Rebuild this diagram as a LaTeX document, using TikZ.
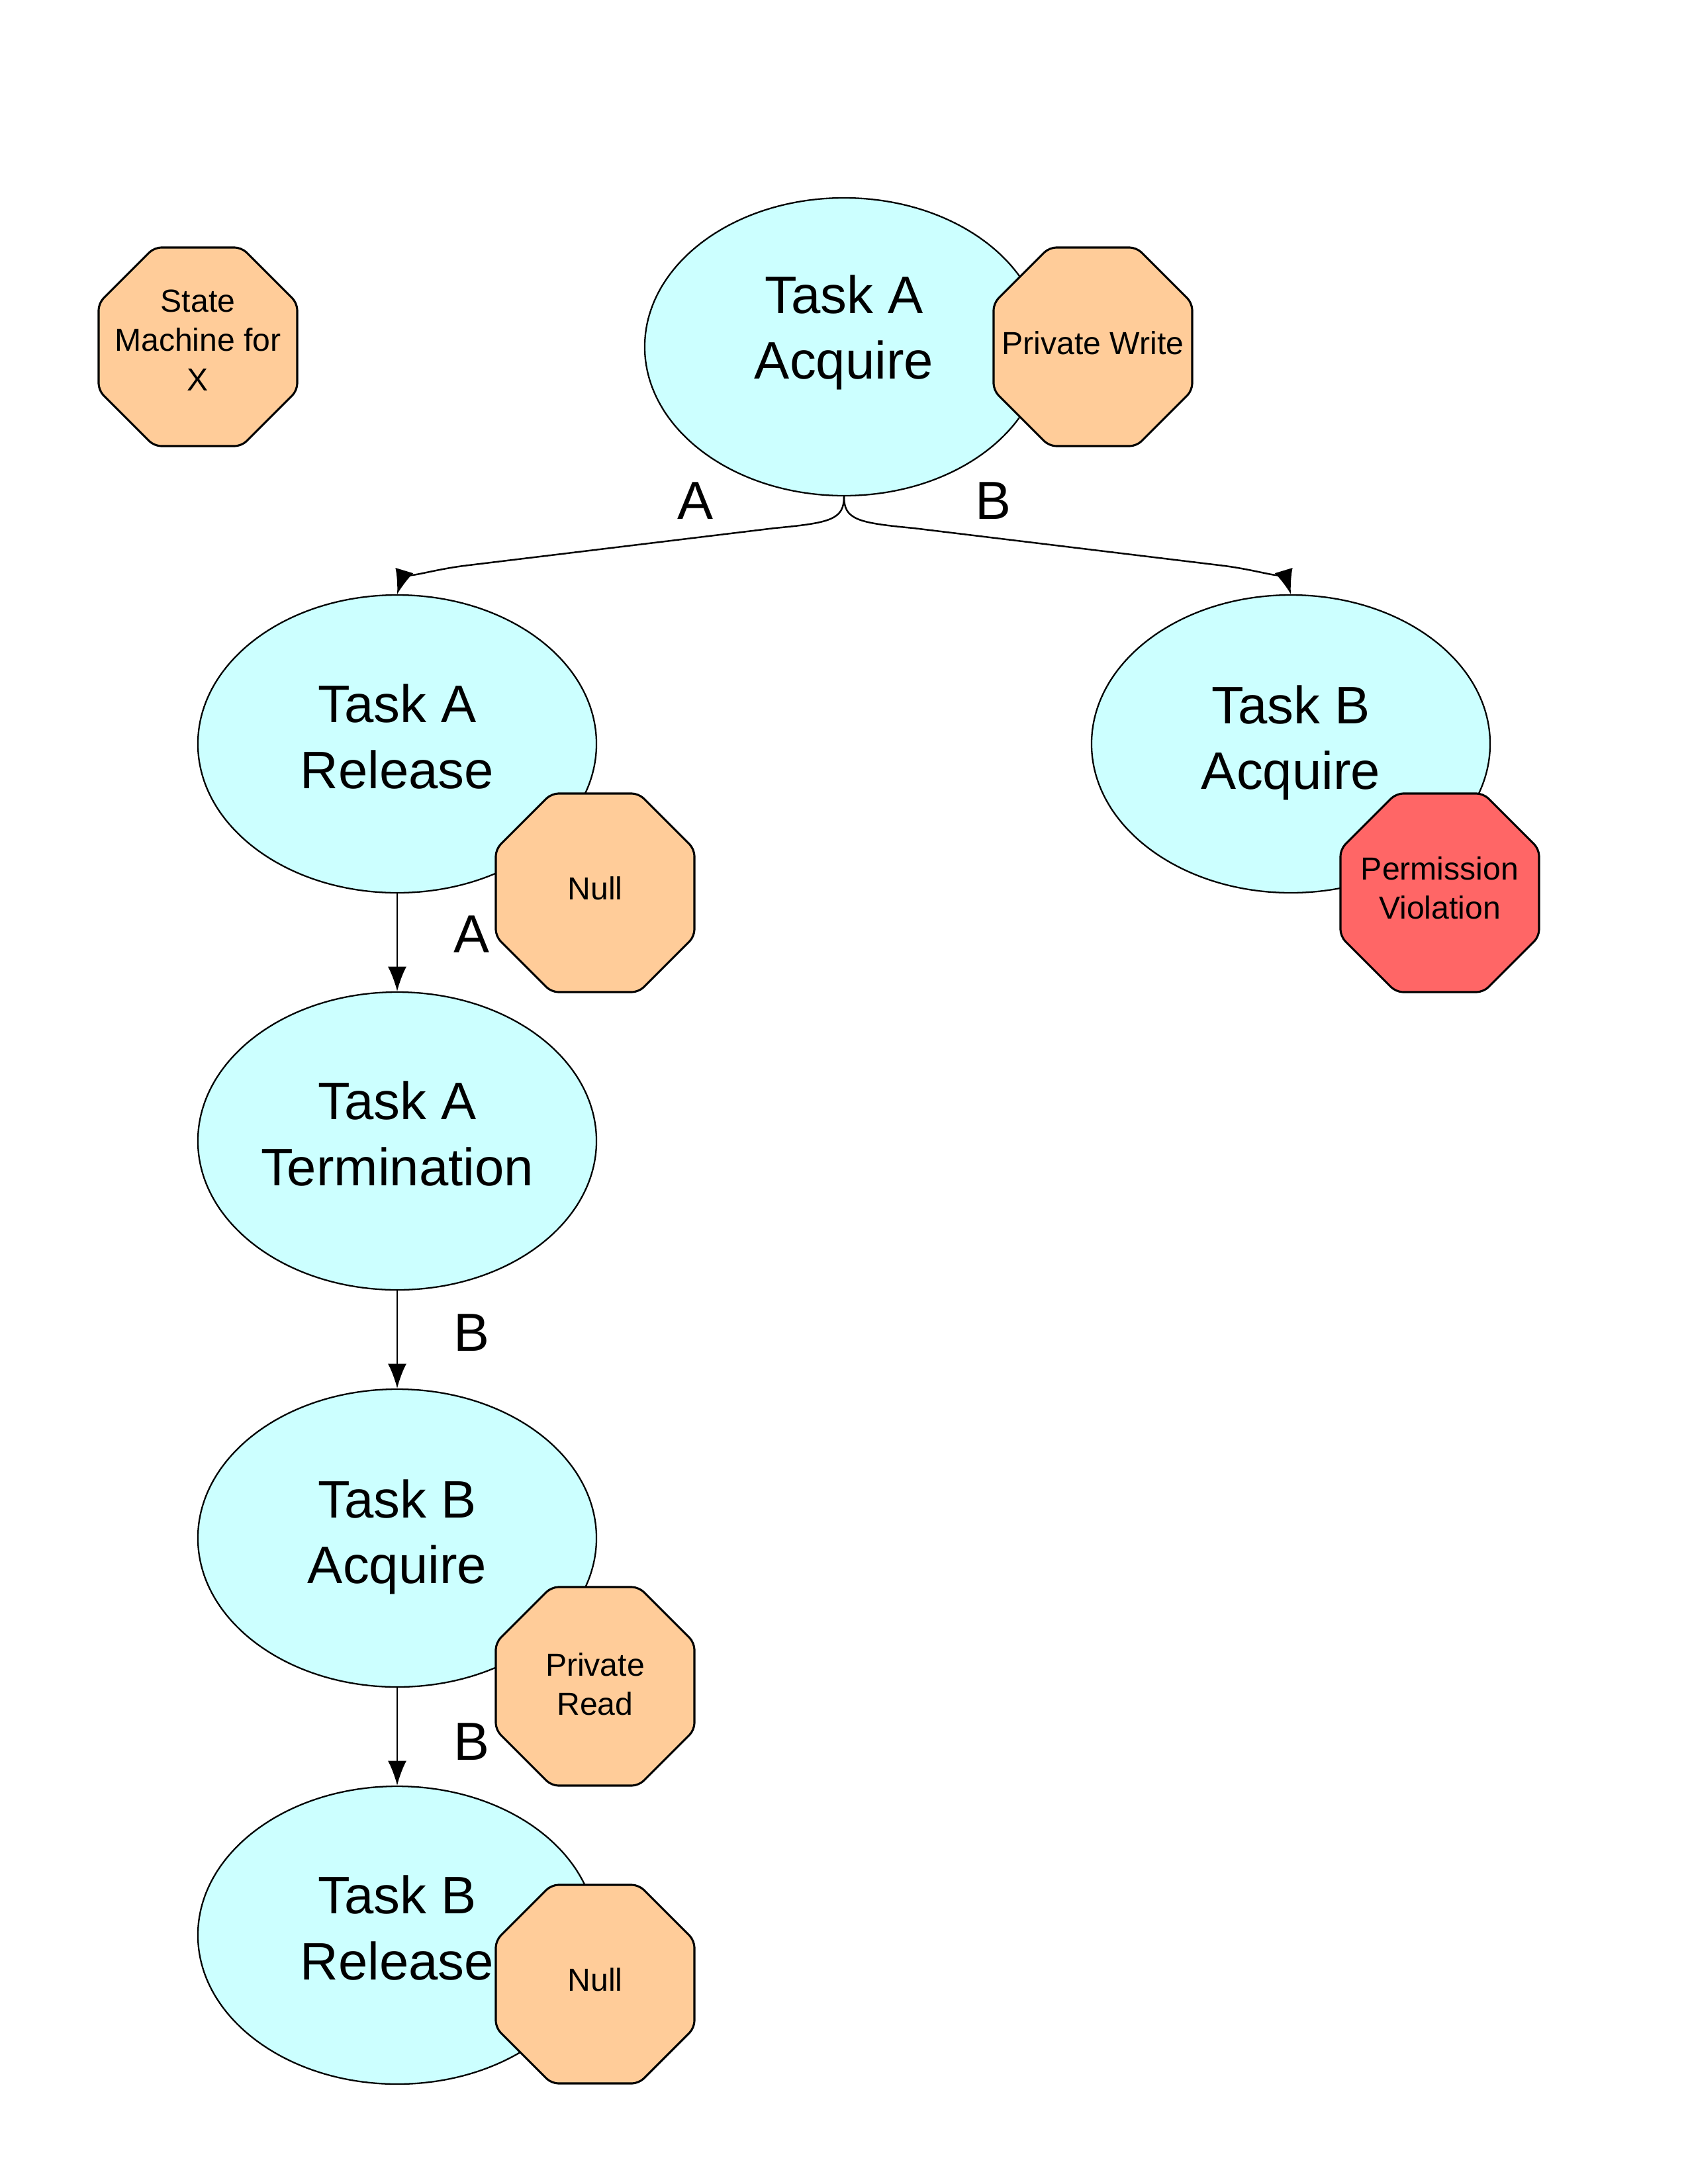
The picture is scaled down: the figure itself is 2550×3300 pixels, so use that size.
\documentclass[tikz,border=0pt]{standalone}
\usepackage{fontspec}
\setmainfont{Liberation Sans}
\usetikzlibrary{shapes.geometric,arrows.meta}
\definecolor{cyanfill}{HTML}{CCFFFF}
\definecolor{orangefill}{HTML}{FFCC99}
\definecolor{redfill}{HTML}{FF6666}
\newcommand{\myoct}[6]{%
  \draw[octo,fill=#4] (#2-150,#3) -- (#2-150,#3-66) -- (#2-66,#3-150) -- (#2+66,#3-150) -- (#2+150,#3-66) -- (#2+150,#3+66) -- (#2+66,#3+150) -- (#2-66,#3+150) -- (#2-150,#3+66) -- cycle;
  \node[octtext] (#1) at (#2,#3-#6) {#5};}
\begin{document}
\begin{tikzpicture}[x=0.2409pt,y=-0.2409pt,
  ell/.style={ellipse,draw=black,line width=0.55pt,fill=cyanfill,minimum width=2.007in,minimum height=1.5in,inner sep=0pt},
  etext/.style={align=center,font=\fontsize{19.2}{23.9}\selectfont,inner sep=0pt},
  octo/.style={draw=black,line width=0.75pt,rounded corners=2.5pt},
  octtext/.style={align=center,font=\fontsize{11.6}{14.3}\selectfont,inner sep=0pt},
  elabel/.style={font=\fontsize{19.5}{23}\selectfont,inner sep=0pt},
  edge/.style={draw=black,line width=0.6pt,-{Latex[length=9pt,width=6.8pt]}}]
\useasboundingbox (0,0) rectangle (2550,3300);
% ellipses
\node[ell] (taa) at (1275,524) {};
\node[ell] (tar) at (600,1124) {};
\node[ell] (tbar) at (1950,1124) {};
\node[ell] (tat) at (600,1724) {};
\node[ell] (tbal) at (600,2324) {};
\node[ell] (tbr) at (600,2924) {};
\node[etext] (taa-t) at (1275,502) {Task A\\Acquire};
\node[etext] (tar-t) at (600,1113) {Task A\\Release};
\node[etext] (tbar-t) at (1950,1122) {Task B\\Acquire};
\node[etext] (tat-t) at (600,1713) {Task A\\Termination};
\node[etext] (tbal-t) at (600,2322) {Task B\\Acquire};
\node[etext] (tbr-t) at (600,2913) {Task B\\Release};
% octagons
\myoct{sm}{299}{524}{orangefill}{State\\Machine for\\X}{10}
\myoct{pw}{1651}{524}{orangefill}{Private Write}{6}
\myoct{null1}{899}{1349}{orangefill}{Null}{7}
\myoct{pv}{2175}{1349}{redfill}{Permission\\Violation}{7}
\myoct{pr}{899}{2548}{orangefill}{Private\\Read}{3}
\myoct{null2}{899}{2998}{orangefill}{Null}{7}
% connectors
\draw[edge] (taa.south) .. controls (1275,785) and (1255,790) .. (1170,798) -- (700,855) .. controls (640,863) and (606,878) .. (tar.north);
\draw[edge] (taa.south) .. controls (1275,785) and (1295,790) .. (1380,798) -- (1850,855) .. controls (1910,863) and (1944,878) .. (tbar.north);
\draw[edge] (tar.south) -- (tat.north);
\draw[edge] (tat.south) -- (tbal.north);
\draw[edge] (tbal.south) -- (tbr.north);
% labels
\node[elabel] (l1) at (1050,757) {A};
\node[elabel] (l2) at (1500,757) {B};
\node[elabel] (l3) at (712,1412) {A};
\node[elabel] (l4) at (712,2014) {B};
\node[elabel] (l5) at (712,2632) {B};
\end{tikzpicture}
\end{document}
